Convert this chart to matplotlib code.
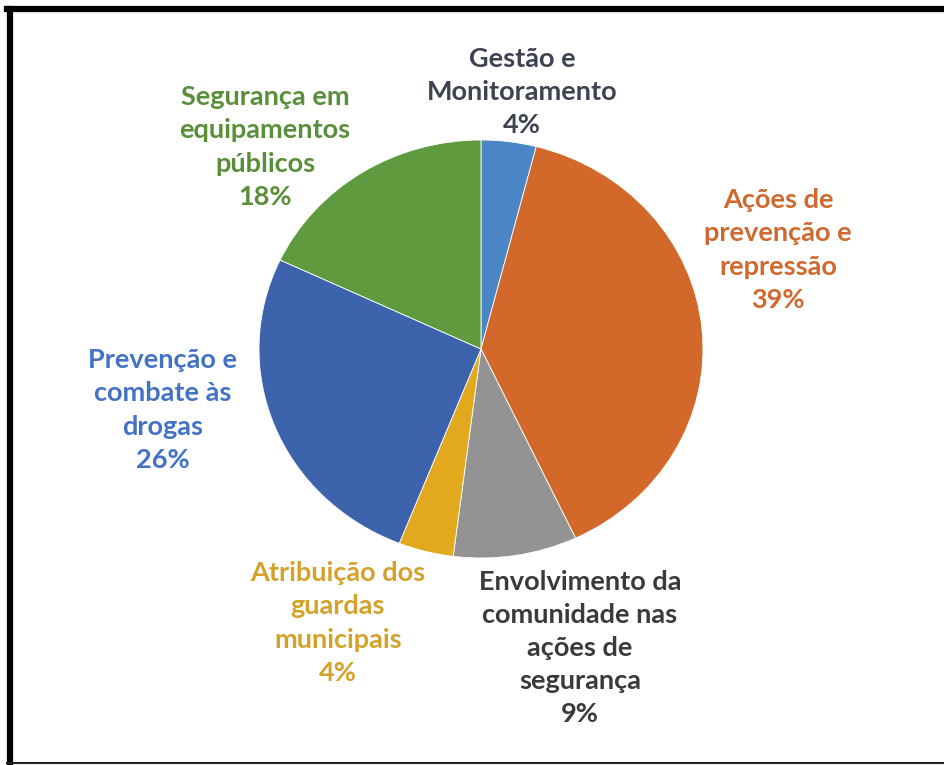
import matplotlib.pyplot as plt
from matplotlib.lines import Line2D

# === DATA ===
labels = ['Gestão e\nMonitoramento', 'Ações de\nprevenção e\nrepressão',
          'Envolvimento da\ncomunidade nas\nações de\nsegurança',
          'Atribuição dos\nguardas\nmunicipais', 'Prevenção e\ncombate às\ndrogas',
          'Segurança em\nequipamentos\npúblicos']
values = [4, 39, 9, 4, 26, 18]

slice_colors = ['#4a86c5', '#d2692a', '#939393', '#e2a91e', '#3e63ad', '#5f9a3f']
text_colors = ['#3d4350', '#d0692f', '#3a3a3a', '#d4a22a', '#4472c4', '#5a8f3a']

# label centres in pixel coords of the 944x765 picture
label_pos = [(522, 92), (778, 250), (580, 648), (338, 623), (163, 410), (265, 147)]

W, H = 944, 765
fig = plt.figure(figsize=(W / 100, H / 100), dpi=100)

# pie centred at (481, 349), radii 222 x 209 px (slightly squashed)
ax = fig.add_axes([259 / W, (H - 558) / H, 444 / W, 418 / H])
ax.pie(values, colors=slice_colors, startangle=90, counterclock=False,
       wedgeprops={'edgecolor': 'white', 'linewidth': 0.6})
ax.set_aspect('auto')
ax.set_xlim(-1, 1)
ax.set_ylim(-1, 1)
ax.axis('off')

for lab, v, c, (px, py) in zip(labels, values, text_colors, label_pos):
    fig.text(px / W, 1 - py / H, f'{lab}\n{v}%', color=c, ha='center', va='center',
             fontsize=19.5, fontweight='bold', family='Lato', linespacing=1.46)

# frame around the picture
fig.add_artist(Line2D([10 / W, 10 / W], [2 / H, 1 - 9 / H], color='black', lw=4.5,
                      transform=fig.transFigure))
fig.add_artist(Line2D([7 / W, 1], [1 - 9 / H, 1 - 9 / H], color='black', lw=4.5,
                      transform=fig.transFigure))
fig.add_artist(Line2D([7 / W, 1], [2 / H, 2 / H], color='#222222', lw=1.5,
                      transform=fig.transFigure))

fig.savefig('out.png', dpi=100)
